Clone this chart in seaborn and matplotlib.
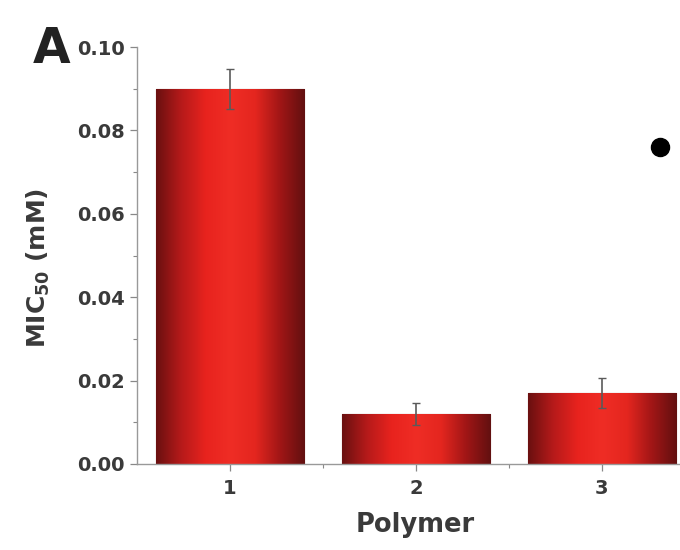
import numpy as np
import pandas as pd
import matplotlib
matplotlib.use("Agg")
import matplotlib.pyplot as plt
from matplotlib.colors import LinearSegmentedColormap
from matplotlib.ticker import MultipleLocator, FixedLocator
import seaborn as sns

# Data
polymers = ["1", "2", "3"]
mic50 = [0.090, 0.012, 0.017]
mic50_err = [0.0048, 0.0026, 0.0036]
yticks = [0.00, 0.02, 0.04, 0.06, 0.08, 0.10]

sns.set_theme(style="ticks")
plt.rcParams["font.family"] = ["DejaVu Sans"]
plt.rcParams["mathtext.default"] = "regular"

df = pd.DataFrame({"Polymer": polymers, "MIC50": mic50})

fig = plt.figure(figsize=(6.8, 5.5), dpi=100)
ax = fig.add_axes([0.2015, 0.1564, 0.7985, 0.758])

sns.barplot(data=df, x="Polymer", y="MIC50", order=polymers, color="#d82020",
            width=0.8, edgecolor="#5a0c0c", linewidth=0.8, ax=ax, zorder=2)

# Cylindrical shading inside each bar
shade = LinearSegmentedColormap.from_list(
    "shade", ["#6a1010", "#b51a1a", "#e8231e", "#ef2d25", "#e4261f", "#a11616", "#621010"])
grad = np.linspace(0, 1, 256).reshape(1, -1)
for patch in ax.patches:
    x0, y0 = patch.get_x(), patch.get_y()
    w, h = patch.get_width(), patch.get_height()
    im = ax.imshow(grad, cmap=shade, aspect="auto", extent=[x0, x0 + w, y0, y0 + h],
                   origin="lower", zorder=2.5, interpolation="bicubic")
    im.set_clip_path(patch)

# Error bars at bar centres
centers = [p.get_x() + p.get_width() / 2 for p in ax.patches]
ax.errorbar(centers, mic50, yerr=mic50_err, fmt="none", ecolor="#5a5a5a",
            elinewidth=1.2, capsize=3, capthick=1.0, zorder=4)

ax.set_xlim(-0.5, 2.42)
ax.set_ylim(0, 0.10)
ax.set_yticks(yticks)
ax.set_yticklabels([f"{v:.2f}" for v in yticks])
ax.yaxis.set_minor_locator(MultipleLocator(0.01))
ax.xaxis.set_minor_locator(FixedLocator([0.5, 1.5]))

txt = "#3a3a3a"
ax.tick_params(axis="both", which="major", length=5, width=0.9, color="#888888",
               labelsize=14, labelcolor=txt, direction="out")
ax.tick_params(axis="both", which="minor", length=3, width=0.8, color="#888888",
               direction="out")
ax.tick_params(axis="y", pad=4)
ax.tick_params(axis="x", pad=6)
for lab in ax.get_xticklabels() + ax.get_yticklabels():
    lab.set_fontweight("bold")

for side in ["top", "right"]:
    ax.spines[side].set_visible(False)
for side in ["left", "bottom"]:
    ax.spines[side].set_color("#999999")
    ax.spines[side].set_linewidth(1.0)

ax.set_xlabel("Polymer", fontsize=18.5, color=txt, labelpad=9, fontweight="bold")
ax.xaxis.set_label_coords(0.512, -0.115)
ax.set_ylabel("MIC$_{50}$ (mM)", fontsize=18, color=txt, labelpad=16,
              fontweight="bold")
ax.yaxis.set_label_coords(-0.157, 0.47)

fig.text(0.048, 0.885, "A", fontsize=35, fontweight="bold", color="#222222",
         ha="left", va="baseline")

# Bullet mark at the upper right
ax.plot([0.9706], [0.7327], marker="o", ms=13, color="black",
        transform=fig.transFigure, clip_on=False)

fig.savefig("out.png", dpi=100)
